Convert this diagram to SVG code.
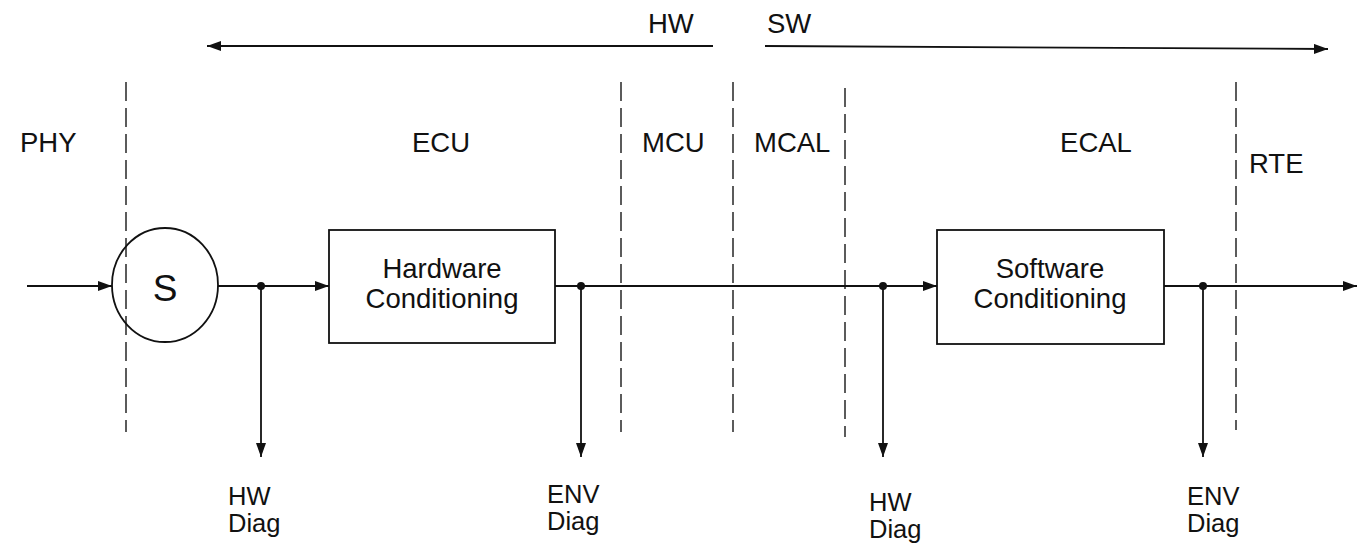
<svg xmlns="http://www.w3.org/2000/svg" width="1368" height="548" viewBox="0 0 1368 548">
<style>
text{font-family:"Liberation Sans",Arial,sans-serif;fill:#111}
.lbl{font-size:27.5px}
.box{font-size:27.5px;text-anchor:middle}
.diag{font-size:25.5px}
.dash{stroke:#333;stroke-width:1.6;stroke-dasharray:19 7;fill:none}
.ln{stroke:#111;stroke-width:1.8;fill:none}
.shape{stroke:#111;stroke-width:1.8;fill:#fff}
</style>
<defs>
<marker id="ah" markerUnits="userSpaceOnUse" markerWidth="14" markerHeight="10" refX="14" refY="5" orient="auto">
<path d="M0,0 L14,5 L0,10 z" fill="#111"/>
</marker>
</defs>
<rect width="1368" height="548" fill="#fff"/>

<g id="boundaries">
<line class="dash" x1="126" y1="82" x2="126" y2="432"/>
<line class="dash" x1="621" y1="82" x2="621" y2="432"/>
<line class="dash" x1="733" y1="82" x2="733" y2="432"/>
<line class="dash" x1="845" y1="88" x2="845" y2="437"/>
<line class="dash" x1="1236" y1="82" x2="1236" y2="430"/>
</g>

<g id="layer-labels">
<text class="lbl" x="648" y="33">HW</text>
<text class="lbl" x="767" y="33">SW</text>
<text class="lbl" x="20" y="152">PHY</text>
<text class="lbl" x="441" y="152" text-anchor="middle">ECU</text>
<text class="lbl" x="642" y="152">MCU</text>
<text class="lbl" x="754" y="152">MCAL</text>
<text class="lbl" x="1096" y="152" text-anchor="middle">ECAL</text>
<text class="lbl" x="1249" y="173">RTE</text>
</g>

<g id="connectors">
<line class="ln" x1="713" y1="46" x2="207" y2="46" marker-end="url(#ah)"/>
<line class="ln" x1="765" y1="46" x2="1328" y2="49" marker-end="url(#ah)"/>
<line class="ln" x1="27" y1="286" x2="112" y2="286" marker-end="url(#ah)"/>
<line class="ln" x1="218" y1="286" x2="329" y2="286" marker-end="url(#ah)"/>
<line class="ln" x1="555" y1="286" x2="937" y2="286" marker-end="url(#ah)"/>
<line class="ln" x1="1164" y1="286" x2="1357" y2="286" marker-end="url(#ah)"/>
<line class="ln" x1="261" y1="286" x2="261" y2="457" marker-end="url(#ah)"/>
<line class="ln" x1="581" y1="286" x2="581" y2="457" marker-end="url(#ah)"/>
<line class="ln" x1="883" y1="286" x2="883" y2="457" marker-end="url(#ah)"/>
<line class="ln" x1="1203" y1="286" x2="1203" y2="457" marker-end="url(#ah)"/>
<circle cx="261" cy="286" r="4" fill="#111"/>
<circle cx="581" cy="286" r="4" fill="#111"/>
<circle cx="883" cy="286" r="4" fill="#111"/>
<circle cx="1203" cy="286" r="4" fill="#111"/>
</g>

<g id="sensor">
<ellipse class="shape" cx="165" cy="285" rx="53" ry="57" fill-opacity="0"/>
<text x="165" y="301" font-size="37" text-anchor="middle">S</text>
</g>

<g id="hw-conditioning">
<rect class="shape" x="329" y="230" width="226" height="113"/>
<text class="box" x="442" y="278">Hardware</text>
<text class="box" x="442" y="308">Conditioning</text>
</g>

<g id="sw-conditioning">
<rect class="shape" x="937" y="230" width="227" height="114"/>
<text class="box" x="1050" y="278">Software</text>
<text class="box" x="1050" y="308">Conditioning</text>
</g>

<g id="hw-diag-1">
<text class="diag" x="228" y="505">HW</text>
<text class="diag" x="228" y="532">Diag</text>
</g>
<g id="env-diag-1">
<text class="diag" x="547" y="503">ENV</text>
<text class="diag" x="547" y="530">Diag</text>
</g>
<g id="hw-diag-2">
<text class="diag" x="869" y="511">HW</text>
<text class="diag" x="869" y="538">Diag</text>
</g>
<g id="env-diag-2">
<text class="diag" x="1187" y="505">ENV</text>
<text class="diag" x="1187" y="532">Diag</text>
</g>
</svg>
